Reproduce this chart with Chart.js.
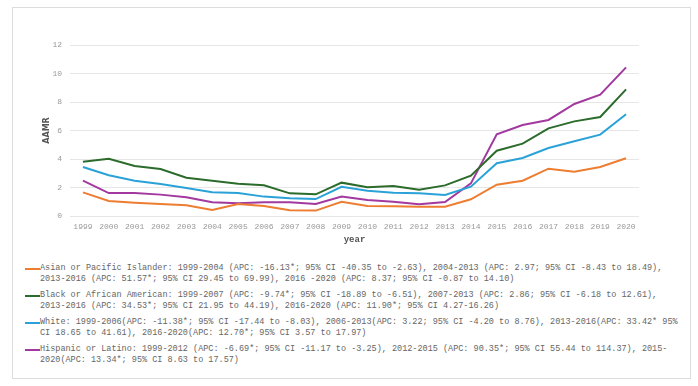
<!DOCTYPE html>
<html>
<head>
<meta charset="utf-8">
<script src="https://cdn.jsdelivr.net/npm/chart.js@4"></script>
<style>
    html, body { margin: 0; padding: 0; background: #fff; width: 698px; height: 386px; overflow: hidden; }
    .frame { position: absolute; left: 12px; top: 7px; width: 679px; height: 372px; border: 1px solid #dcdcdc; box-sizing: border-box; }
    .plot { position: absolute; left: 13px; top: 8px; width: 678px; height: 250px; }
    #legend { position: absolute; left: 25px; top: 263px; width: 657px; font-family: "Liberation Mono", monospace; font-size: 8.5px; line-height: 11px; color: #666; }
    #legend .item { position: relative; padding-left: 15px; margin-bottom: 5px; }
    #legend .swatch { position: absolute; left: 0; top: 5px; width: 15px; height: 2px; }
</style>
</head>
<body>
<div class="frame"></div>
<div class="plot"><canvas id="chart"></canvas></div>
<div id="legend"></div>
<script>
(function () {
    "use strict";

    const years = [
        "1999", "2000", "2001", "2002", "2003", "2004", "2005", "2006",
        "2007", "2008", "2009", "2010", "2011", "2012", "2013", "2014",
        "2015", "2016", "2017", "2018", "2019", "2020",
    ];
    const yTicks = [0, 2, 4, 6, 8, 10, 12];

    const asian = [1.66, 1.05, 0.93, 0.84, 0.75, 0.42, 0.84, 0.70, 0.40, 0.38, 1.00,
        0.70, 0.68, 0.65, 0.65, 1.17, 2.20, 2.48, 3.32, 3.11, 3.44, 4.05];
    const black = [3.81, 4.02, 3.51, 3.30, 2.69, 2.48, 2.27, 2.15, 1.59, 1.52, 2.34,
        2.01, 2.11, 1.85, 2.15, 2.83, 4.58, 5.08, 6.15, 6.64, 6.95, 8.89];
    const white = [3.44, 2.86, 2.48, 2.25, 1.96, 1.66, 1.61, 1.36, 1.24, 1.19, 2.05,
        1.78, 1.64, 1.59, 1.47, 2.06, 3.70, 4.07, 4.77, 5.24, 5.71, 7.14];
    const hispanic = [2.48, 1.61, 1.61, 1.50, 1.31, 0.96, 0.89, 0.96, 0.96, 0.84, 1.36,
        1.12, 1.00, 0.82, 0.98, 2.29, 5.73, 6.39, 6.74, 7.86, 8.51, 10.43];

    const seriesLabels = [
        "Asian or Pacific Islander: 1999-2004 (APC: -16.13*; 95% CI -40.35 to -2.63), 2004-2013 (APC: 2.97; 95% CI -8.43 to 18.49), 2013-2016 (APC: 51.57*; 95% CI 29.45 to 69.99), 2016 -2020 (APC: 8.37; 95% CI -0.87 to 14.10)",
        "Black or African American: 1999-2007 (APC: -9.74*; 95% CI -18.89 to -6.51), 2007-2013 (APC: 2.86; 95% CI -6.18 to 12.61), 2013-2016 (APC: 34.53*; 95% CI 21.95 to 44.19), 2016-2020 (APC: 11.90*; 95% CI 4.27-16.26)",
        "White: 1999-2006(APC: -11.38*; 95% CI -17.44 to -8.03), 2006-2013(APC: 3.22; 95% CI -4.20 to 8.76), 2013-2016(APC: 33.42* 95% CI 18.65 to 41.61), 2016-2020(APC: 12.70*; 95% CI 3.57 to 17.97)",
        "Hispanic or Latino: 1999-2012 (APC: -6.69*; 95% CI -11.17 to -3.25), 2012-2015 (APC:  90.35*; 95% CI 55.44 to 114.37), 2015-2020(APC: 13.34*; 95% CI 8.63 to 17.57)",
    ];
    const colors = ["#ed7d31", "#2b6b2b", "#2aa2d8", "#a2399f"];

    const series = [asian, black, white, hispanic];

    // html legend, built from the chart datasets
    const htmlLegend = {
        id: "htmlLegend",
        afterUpdate(chart) {
            const box = document.getElementById("legend");
            box.innerHTML = "";
            chart.data.datasets.forEach(function (ds) {
                const item = document.createElement("div");
                item.className = "item";
                const sw = document.createElement("span");
                sw.className = "swatch";
                sw.style.background = ds.borderColor;
                item.appendChild(sw);
                item.appendChild(document.createTextNode(ds.label));
                box.appendChild(item);
            });
        },
    };

    const ctx = document.getElementById("chart").getContext("2d");
    new Chart(ctx, {
        type: "line",
        data: {
            labels: years,
            datasets: series.map(function (values, i) {
                return {
                    label: seriesLabels[i],
                    data: values,
                    borderColor: colors[i],
                    backgroundColor: colors[i],
                    borderWidth: 2,
                    pointRadius: 0,
                    tension: 0,
                };
            }),
        },
        options: {
            responsive: true,
            maintainAspectRatio: false,
            animation: false,
            layout: {
                padding: { top: 37, right: 52, bottom: 0, left: 0 },
            },
            plugins: {
                legend: { display: false },
                tooltip: { enabled: false },
            },
            scales: {
                x: {
                    offset: true,
                    grid: { display: false, drawTicks: false },
                    border: { display: false },
                    ticks: {
                        color: "#999",
                        padding: 6,
                        maxRotation: 0,
                        autoSkip: false,
                        font: { family: "Liberation Mono", size: 8 },
                    },
                    title: {
                        display: true,
                        text: "year",
                        color: "#555",
                        padding: { top: 4, bottom: 13 },
                        font: { family: "Liberation Mono", size: 9, weight: "bold" },
                    },
                    afterFit: function (scale) {
                        scale.height = 42;
                    },
                },
                y: {
                    min: 0,
                    max: 12,
                    grid: { color: "#e6e6e6", drawTicks: false },
                    border: { display: false },
                    afterBuildTicks: function (scale) {
                        scale.ticks = yTicks.map(function (v) { return { value: v }; });
                    },
                    ticks: {
                        color: "#999",
                        padding: 8,
                        font: { family: "Liberation Mono", size: 8 },
                    },
                    title: {
                        display: true,
                        text: "AAMR",
                        color: "#555",
                        padding: { top: 29, bottom: 0 },
                        font: { family: "DejaVu Sans", size: 8, weight: "bold" },
                    },
                    afterFit: function (scale) {
                        scale.width = 57;
                    },
                },
            },
        },
        plugins: [htmlLegend],
    });
})();
</script>
</body>
</html>
